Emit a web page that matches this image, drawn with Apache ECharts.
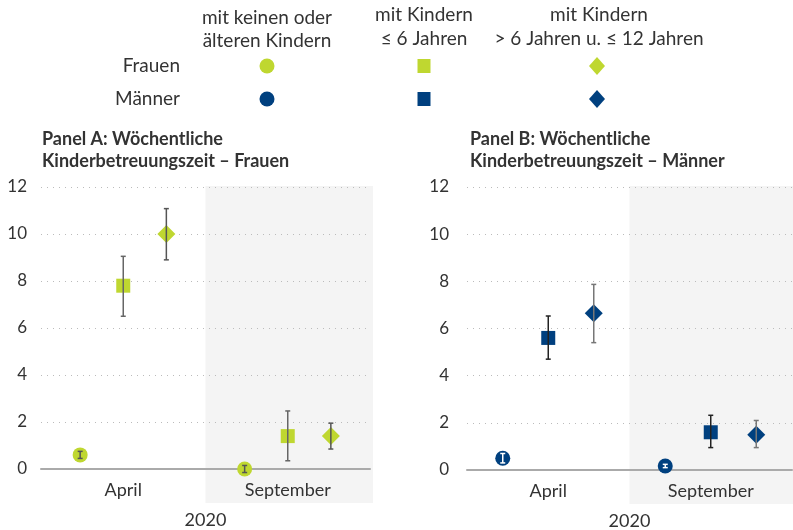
<!DOCTYPE html>
<html>
<head>
<meta charset="utf-8">
<script src="https://cdn.jsdelivr.net/npm/echarts@6/dist/echarts.min.js"></script>
<style>
  html, body { margin: 0; padding: 0; background: #fff; }
  #chart { width: 793px; height: 530px; }
</style>
</head>
<body>
<div id="chart"></div>
<script>
const categories = ["April", "September"];
const yTicks = [0, 2, 4, 6, 8, 10, 12];

// [Wert, untere Grenze, obere Grenze] je Kategorie
const frauenKeine = [[0.6, 0.45, 0.75], [0.0, -0.15, 0.15]];
const frauenBis6 = [[7.8, 6.5, 9.05], [1.4, 0.35, 2.47]];
const frauenBis12 = [[10.0, 8.9, 11.08], [1.4, 0.85, 1.95]];

const maennerKeine = [[0.5, 0.3, 0.7], [0.17, 0.1, 0.24]];
const maennerBis6 = [[5.6, 4.7, 6.53], [1.6, 0.95, 2.32]];
const maennerBis12 = [[6.65, 5.4, 7.87], [1.5, 0.95, 2.1]];

const green = "#bfd730";
const blue = "#00407f";
const fontFamily = "Lato, 'Noto Sans', sans-serif";

const chart = echarts.init(document.getElementById("chart"));

function toData(rows) {
  return rows.map((r, i) => [i, r[0], r[1], r[2]]);
}

function makeRender(shape, color, barColor, offset) {
  return function (params, api) {
    const cat = api.value(0);
    const band = api.size([1, 0])[0];
    const p = api.coord([cat, api.value(1)]);
    const x = p[0] + band * offset;
    const y = p[1];
    const yLo = api.coord([cat, api.value(2)])[1];
    const yHi = api.coord([cat, api.value(3)])[1];
    let marker;
    if (shape === "circle") {
      marker = { type: "circle", shape: { cx: x, cy: y, r: 7.5 }, style: { fill: color } };
    } else if (shape === "rect") {
      marker = { type: "rect", shape: { x: x - 7, y: y - 7, width: 14, height: 14 }, style: { fill: color } };
    } else {
      marker = {
        type: "polygon",
        shape: { points: [[x, y - 9], [x + 9, y], [x, y + 9], [x - 9, y]] },
        style: { fill: color }
      };
    }
    const ls = { stroke: barColor, lineWidth: 1.5 };
    return {
      type: "group",
      children: [
        marker,
        { type: "line", shape: { x1: x, y1: yLo, x2: x, y2: yHi }, style: ls },
        { type: "line", shape: { x1: x - 2.5, y1: yLo, x2: x + 2.5, y2: yLo }, style: ls },
        { type: "line", shape: { x1: x - 2.5, y1: yHi, x2: x + 2.5, y2: yHi }, style: ls }
      ]
    };
  };
}

function shadeRender(extraRight) {
  return function (params, api) {
    const band = api.size([1, 0])[0];
    const top = api.coord([1, 12]);
    const bottom = api.coord([1, 0]);
    return {
      type: "rect",
      shape: { x: top[0] - band / 2, y: top[1] - 1, width: band + extraRight, height: bottom[1] - top[1] + 35 },
      style: { fill: "#f4f4f4" }
    };
  };
}

function errSeries(idx, shape, color, barColor, offset, rows) {
  return {
    type: "custom",
    xAxisIndex: idx,
    yAxisIndex: idx,
    renderItem: makeRender(shape, color, barColor, offset),
    data: toData(rows),
    z: 5
  };
}

const xAxisBase = {
  type: "category",
  data: categories,
  axisLine: { show: true, lineStyle: { color: "#aaa", width: 2 } },
  axisTick: { show: false },
  axisLabel: { color: "#333", fontSize: 18, fontFamily: fontFamily, margin: 12 },
  name: "2020",
  nameLocation: "middle",
  nameGap: 42,
  nameTextStyle: { color: "#333", fontSize: 18, fontFamily: fontFamily }
};

const yAxisBase = {
  type: "value",
  min: 0,
  max: 12,
  interval: 2,
  axisLine: { show: false },
  axisTick: { show: false },
  axisLabel: { color: "#333", fontSize: 17, fontFamily: fontFamily, margin: 14 },
  splitLine: { show: true, lineStyle: { color: "#bbb", type: [1, 5], width: 1 } }
};

// Legende als Matrix
const headerStyle = { fill: "#333", fontSize: 19, fontFamily: fontFamily, textAlign: "center", textVerticalAlign: "middle" };
const legendCols = [267, 424, 599];
const legendRows = [66, 99];
const legendGraphics = [
  { type: "text", x: legendCols[0], y: 18, style: Object.assign({ text: "mit keinen oder" }, headerStyle) },
  { type: "text", x: legendCols[0], y: 41, style: Object.assign({ text: "älteren Kindern" }, headerStyle) },
  { type: "text", x: legendCols[1], y: 15, style: Object.assign({ text: "mit Kindern" }, headerStyle) },
  { type: "text", x: legendCols[1], y: 39, style: Object.assign({ text: "≤ 6 Jahren" }, headerStyle) },
  { type: "text", x: legendCols[2], y: 15, style: Object.assign({ text: "mit Kindern" }, headerStyle) },
  { type: "text", x: legendCols[2], y: 39, style: Object.assign({ text: "> 6 Jahren u. ≤ 12 Jahren" }, headerStyle) },
  { type: "text", x: 180, y: legendRows[0], style: Object.assign({}, headerStyle, { text: "Frauen", textAlign: "right" }) },
  { type: "text", x: 180, y: legendRows[1], style: Object.assign({}, headerStyle, { text: "Männer", textAlign: "right" }) }
];
[green, blue].forEach((c, i) => {
  const y = legendRows[i];
  legendGraphics.push({ type: "circle", shape: { cx: legendCols[0], cy: y, r: 7.5 }, style: { fill: c } });
  legendGraphics.push({ type: "rect", shape: { x: legendCols[1] - 6.5, y: y - 7, width: 13, height: 14 }, style: { fill: c } });
  legendGraphics.push({
    type: "polygon",
    shape: { points: [[legendCols[2] - 2, y - 9], [legendCols[2] + 6, y], [legendCols[2] - 2, y + 9], [legendCols[2] - 10, y]] },
    style: { fill: c }
  });
});

const titleStyle = { color: "#333", fontSize: 18, fontWeight: "bold", fontFamily: fontFamily, lineHeight: 22 };

const option = {
  backgroundColor: "#fff",
  animation: false,
  title: [
    { text: "Panel A: Wöchentliche\nKinderbetreuungszeit – Frauen", left: 37, top: 123, textStyle: titleStyle },
    { text: "Panel B: Wöchentliche\nKinderbetreuungszeit – Männer", left: 465, top: 123, textStyle: titleStyle }
  ],
  grid: [
    { left: 41, right: 423, top: 187, bottom: 61, containLabel: false, outerBoundsMode: "none" },
    { left: 467, right: 1, top: 187, bottom: 60, containLabel: false, outerBoundsMode: "none" }
  ],
  xAxis: [
    Object.assign({ gridIndex: 0 }, xAxisBase),
    Object.assign({ gridIndex: 1 }, xAxisBase)
  ],
  yAxis: [
    Object.assign({ gridIndex: 0 }, yAxisBase),
    Object.assign({ gridIndex: 1 }, yAxisBase, { axisLabel: Object.assign({}, yAxisBase.axisLabel, { margin: 18 }) })
  ],
  graphic: legendGraphics,
  series: [
    { type: "custom", xAxisIndex: 0, yAxisIndex: 0, renderItem: shadeRender(3), data: [[1]], z: -10, silent: true },
    { type: "custom", xAxisIndex: 1, yAxisIndex: 1, renderItem: shadeRender(2), data: [[1]], z: -10, silent: true },
    errSeries(0, "circle", green, "#555", -0.262, frauenKeine),
    errSeries(0, "rect", green, "#666", 0, frauenBis6),
    errSeries(0, "diamond", green, "#555", 0.262, frauenBis12),
    errSeries(1, "circle", blue, "#ffffff", -0.28, maennerKeine),
    errSeries(1, "rect", blue, "#222", 0, maennerBis6),
    errSeries(1, "diamond", blue, "#777", 0.28, maennerBis12)
  ]
};

chart.setOption(option);
</script>
</body>
</html>
